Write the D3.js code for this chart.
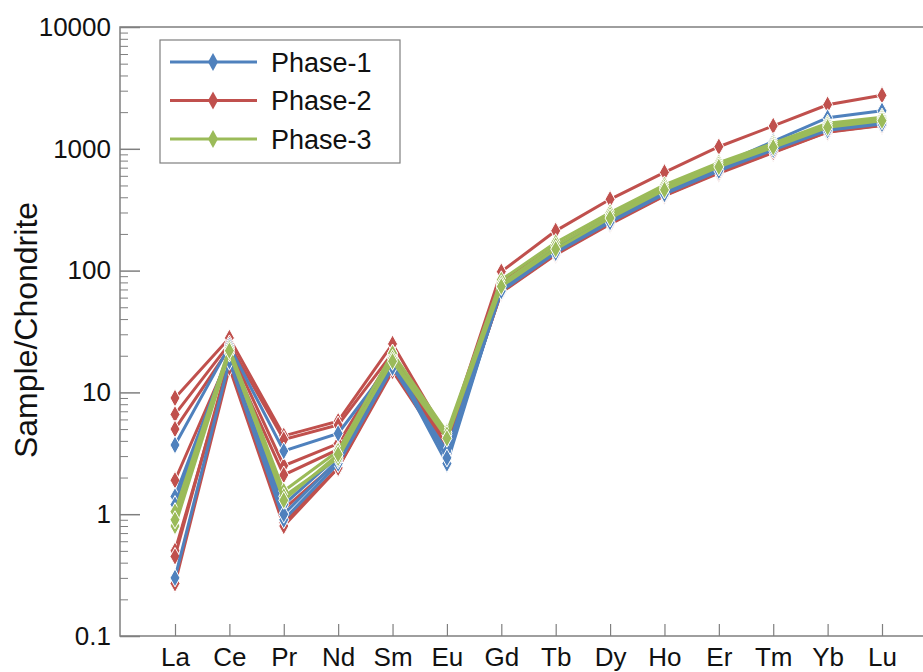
<!DOCTYPE html>
<html lang="en">
<head>
    <meta charset="UTF-8">
    <title>REE pattern</title>
    <script src="https://cdn.jsdelivr.net/npm/d3@7"></script>
    <style>
        body { margin: 0; background: #fff; }
        text { font-family: "Liberation Sans", Arial, sans-serif; fill: #111; }
    </style>
</head>
<body>
<svg width="923" height="672"></svg>
<script>

    var elements = ["La", "Ce", "Pr", "Nd", "Sm", "Eu", "Gd", "Tb", "Dy", "Ho", "Er", "Tm", "Yb", "Lu"];
    var yTicks = [0.1, 1, 10, 100, 1000, 10000];
    var phases = ["Phase-1", "Phase-2", "Phase-3"];
    var phaseColors = ["#4f81bd", "#c0504d", "#9bbb59"];

    // one row per sample, chondrite normalised
    var phase1 = [
        [3.7, 24, 3.3, 4.6, 18, 2.6, 72, 150, 270, 460, 730, 1150, 1800, 2050],
        [1.4, 21, 1.2, 3.0, 17, 3.0, 70, 145, 260, 440, 690, 1050, 1550, 1750],
        [0.3, 18, 0.9, 2.6, 16, 3.3, 75, 155, 275, 460, 700, 1000, 1450, 1650],
        [1.2, 22, 1.0, 2.8, 19, 2.9, 68, 140, 250, 425, 660, 980, 1420, 1600]
    ];
    var phase2 = [
        [9.0, 28, 4.4, 5.8, 25, 4.3, 98, 212, 385, 640, 1040, 1540, 2300, 2750],
        [6.6, 25, 4.1, 5.4, 21, 4.0, 80, 160, 285, 480, 730, 1060, 1550, 1750],
        [5.0, 23, 2.5, 3.8, 20, 3.7, 76, 152, 270, 455, 700, 1020, 1500, 1700],
        [1.9, 20, 2.1, 3.4, 18, 3.5, 72, 145, 258, 435, 670, 980, 1430, 1620],
        [0.5, 17, 0.85, 2.4, 15, 3.2, 66, 135, 240, 410, 630, 930, 1370, 1550],
        [0.45, 19, 1.1, 2.7, 17, 3.4, 69, 140, 250, 420, 650, 950, 1400, 1580],
        [0.27, 16, 0.8, 2.4, 16, 3.1, 67, 137, 245, 415, 640, 940, 1380, 1560]
    ];
    var phase3 = [
        [1.05, 23, 1.55, 3.3, 21, 4.7, 84, 170, 300, 505, 770, 1110, 1620, 1820],
        [0.8, 21, 1.4, 2.9, 19, 4.5, 78, 160, 285, 480, 740, 1070, 1560, 1760],
        [0.9, 22, 1.3, 3.1, 18, 4.2, 74, 150, 270, 460, 710, 1030, 1500, 1700]
    ];
    var phaseData = [phase1, phase2, phase3];
    var drawOrder = [1, 0, 2];

    var svg = d3.select("svg");
    var plotLeft = 120, plotTop = 27, plotBottom = 636, plotRight = 940;

    var x = d3.scalePoint().domain(elements).range([175, 882]);
    var y = d3.scaleLog().domain([0.1, 10000]).range([plotBottom, plotTop]);

    // frame
    svg.append("path")
        .attr("d", "M" + plotRight + "," + plotTop + "H" + plotLeft + "V" + plotBottom + "H" + plotRight)
        .attr("fill", "none")
        .attr("stroke", "#7f7f7f")
        .attr("stroke-width", 1.5);

    // minor y ticks
    var minor = [];
    yTicks.slice(0, -1).forEach(function (t) {
        for (var k = 2; k < 10; k++) minor.push(t * k);
    });
    svg.append("g")
        .attr("transform", "translate(" + plotLeft + ",0)")
        .call(d3.axisLeft(y).tickValues(minor).tickSize(-8).tickFormat(""))
        .call(function (g) {
            g.select(".domain").remove();
            g.selectAll("line").attr("stroke", "#7f7f7f");
        });

    // major y ticks
    svg.append("g")
        .attr("transform", "translate(" + plotLeft + ",0)")
        .call(d3.axisLeft(y).tickValues(yTicks).tickSize(-20).tickPadding(9)
            .tickFormat(function (d) { return d3.format("")(d); }))
        .call(function (g) {
            g.select(".domain").remove();
            g.selectAll("line").attr("stroke", "#7f7f7f").attr("stroke-width", 1.5);
            g.selectAll("text").attr("font-size", 26).attr("fill", "#111")
                .attr("font-family", "Liberation Sans, Arial, sans-serif");
        });

    // x ticks
    svg.append("g")
        .attr("transform", "translate(0," + plotBottom + ")")
        .call(d3.axisBottom(x).tickSize(-12).tickPadding(12))
        .call(function (g) {
            g.select(".domain").remove();
            g.selectAll("line").attr("stroke", "#7f7f7f").attr("stroke-width", 1.2);
            g.selectAll("text").attr("font-size", 26).attr("fill", "#111")
                .attr("font-family", "Liberation Sans, Arial, sans-serif");
        });

    // y label
    svg.append("text")
        .attr("transform", "translate(37,330) rotate(-90)")
        .attr("text-anchor", "middle")
        .attr("font-size", 32)
        .text("Sample/Chondrite");

    var line = d3.line()
        .x(function (d, i) { return x(elements[i]); })
        .y(function (d) { return y(d); });

    var diamond = "M0,-9L5,0L0,9L-5,0Z";

    drawOrder.forEach(function (p) {
        var g = svg.append("g").attr("class", "phase" + (p + 1));
        phaseData[p].forEach(function (row) {
            g.append("path")
                .attr("d", line(row))
                .attr("fill", "none")
                .attr("stroke", phaseColors[p])
                .attr("stroke-width", 3);
            g.selectAll(null)
                .data(row)
                .enter().append("path")
                .attr("d", diamond)
                .attr("transform", function (d, i) {
                    return "translate(" + x(elements[i]) + "," + y(d) + ")";
                })
                .attr("fill", phaseColors[p])
                .attr("stroke", "#fff")
                .attr("stroke-width", 1);
        });
    });

    // legend
    var legend = svg.append("g");
    legend.append("rect")
        .attr("x", 160).attr("y", 40)
        .attr("width", 240).attr("height", 123)
        .attr("fill", "#fff")
        .attr("stroke", "#7f7f7f")
        .attr("stroke-width", 1.2);
    phases.forEach(function (name, i) {
        var ly = 62 + i * 38.5;
        legend.append("line")
            .attr("x1", 170).attr("x2", 257)
            .attr("y1", ly).attr("y2", ly)
            .attr("stroke", phaseColors[i])
            .attr("stroke-width", 3);
        legend.append("path")
            .attr("d", diamond)
            .attr("transform", "translate(213," + ly + ")")
            .attr("fill", phaseColors[i]);
        legend.append("text")
            .attr("x", 271).attr("y", ly)
            .attr("dy", "0.36em")
            .attr("font-size", 27)
            .text(name);
    });

</script>
</body>
</html>
